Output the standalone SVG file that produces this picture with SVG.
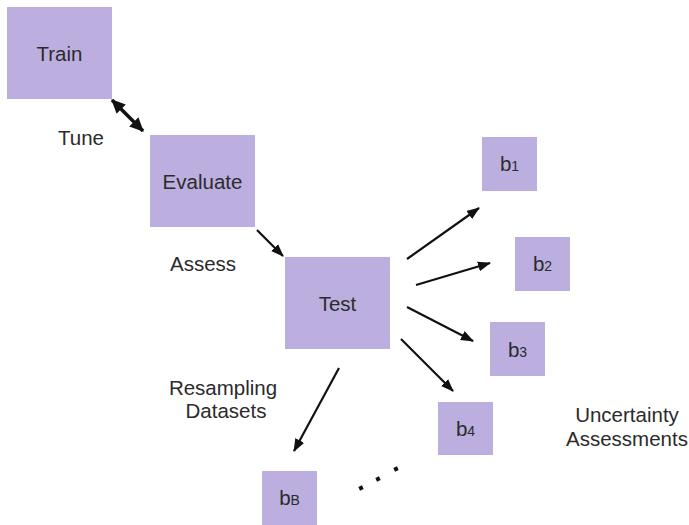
<svg xmlns="http://www.w3.org/2000/svg" width="689" height="525" viewBox="0 0 689 525">
<style>
.box{fill:#BCAFE0}
.t{font-family:"Liberation Sans",Arial,sans-serif;font-size:20.5px;fill:#2b2b2b;text-anchor:middle}
.sub{font-size:14px}
.c{stroke:#111;stroke-width:2.2;fill:none}
.thick{stroke-width:3.6}
</style>
<defs>
<marker id="ah" viewBox="0 0 13 10" refX="12" refY="5" markerWidth="13" markerHeight="10" markerUnits="userSpaceOnUse" orient="auto-start-reverse">
<path d="M0,0 L13,5 L0,10 Z" fill="#111"/>
</marker>
<marker id="ahb" viewBox="0 0 14 13" refX="13" refY="6.5" markerWidth="14" markerHeight="13" markerUnits="userSpaceOnUse" orient="auto-start-reverse">
<path d="M0,0 L14,6.5 L0,13 Z" fill="#111"/>
</marker>
</defs>
<rect width="689" height="525" fill="#fff"/>
<g id="train"><rect class="box" x="7" y="7" width="105" height="92"/><text class="t" x="59.5" y="61">Train</text></g>
<g id="evaluate"><rect class="box" x="150" y="135" width="105" height="92"/><text class="t" x="202.5" y="189">Evaluate</text></g>
<g id="test"><rect class="box" x="285" y="257" width="105" height="92"/><text class="t" x="337.5" y="311">Test</text></g>
<g id="b1"><rect class="box" x="482" y="137" width="55" height="54"/><text class="t" x="509.5" y="171">b<tspan class="sub">1</tspan></text></g>
<g id="b2"><rect class="box" x="515" y="237" width="55" height="54"/><text class="t" x="542.5" y="271">b<tspan class="sub">2</tspan></text></g>
<g id="b3"><rect class="box" x="490" y="322" width="55" height="54"/><text class="t" x="517.5" y="357">b<tspan class="sub">3</tspan></text></g>
<g id="b4"><rect class="box" x="438" y="402" width="55" height="53"/><text class="t" x="465.5" y="436">b<tspan class="sub">4</tspan></text></g>
<g id="bB"><rect class="box" x="262" y="471" width="55" height="54"/><text class="t" x="289.5" y="505">b<tspan class="sub">B</tspan></text></g>
<g id="labels">
<text class="t" x="81" y="145">Tune</text>
<text class="t" x="203" y="271">Assess</text>
<text class="t" x="223" y="395">Resampling</text>
<text class="t" x="226" y="418">Datasets</text>
<text class="t" x="627" y="422">Uncertainty</text>
<text class="t" x="627" y="446">Assessments</text>
</g>
<g id="connectors">
<line class="c thick" x1="112" y1="100" x2="143" y2="131" marker-start="url(#ahb)" marker-end="url(#ahb)"/>
<line class="c" x1="257" y1="230" x2="283" y2="256" marker-end="url(#ah)"/>
<line class="c" x1="407" y1="259" x2="479" y2="208" marker-end="url(#ah)"/>
<line class="c" x1="416" y1="285" x2="490" y2="263" marker-end="url(#ah)"/>
<line class="c" x1="407" y1="307" x2="473" y2="341" marker-end="url(#ah)"/>
<line class="c" x1="401" y1="339" x2="453" y2="391" marker-end="url(#ah)"/>
<line class="c" x1="339" y1="368" x2="294" y2="451" marker-end="url(#ah)"/>
</g>
<g id="dots" fill="#111">
<rect x="359" y="486" width="4" height="4" transform="rotate(-25 361 488)"/>
<rect x="376" y="477" width="4" height="4" transform="rotate(-25 378 479)"/>
<rect x="394" y="467" width="4" height="4" transform="rotate(-25 396 469)"/>
</g>
</svg>
